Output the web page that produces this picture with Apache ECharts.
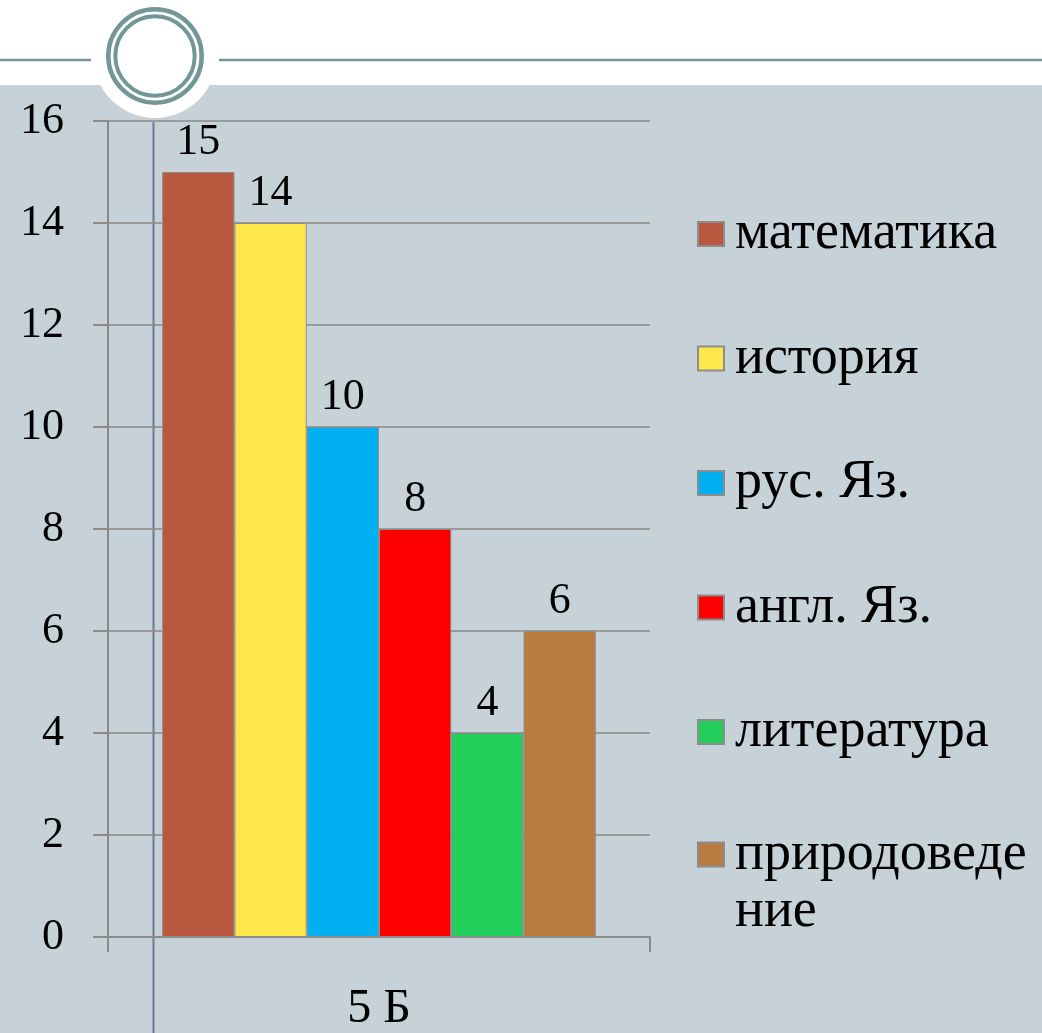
<!DOCTYPE html>
<html>
<head>
<meta charset="utf-8">
<script src="https://cdn.jsdelivr.net/npm/echarts@6/dist/echarts.min.js"></script>
<style>
html,body{margin:0;padding:0;background:#fff;}
#chart{width:1042px;height:1033px;}
</style>
</head>
<body>
<div id="chart"></div>
<script>
const categories = ['5 Б'];
const subjects = ['математика', 'история', 'рус. Яз.', 'англ. Яз.', 'литература', 'природоведение'];
const values = [15, 14, 10, 8, 4, 6];
const colors = ['#b9573f', '#fee74a', '#00b0f0', '#ff0000', '#22cf5a', '#b87c41'];

const FONT = "'Liberation Serif', 'DejaVu Serif', serif";
const chart = echarts.init(document.getElementById('chart'), null, {renderer: 'canvas'});

const series = subjects.map((name, i) => ({
  name: name,
  type: 'bar',
  data: [values[i]],
  barGap: '0%',
  barCategoryGap: '20%',
  itemStyle: {color: colors[i], borderColor: '#8c8c8c', borderWidth: 1},
  label: {
    show: true, position: 'top', distance: 8,
    color: '#000', fontFamily: FONT, fontSize: 44
  }
}));

const legendText = {color: '#000', fontFamily: FONT, fontSize: 54, lineHeight: 57, padding: [0, 0, 0, 6]};

const option = {
  backgroundColor: '#ffffff',
  animation: false,
  graphic: [
    {type: 'rect', z: -10, shape: {x: 0, y: 85, width: 1042, height: 948}, style: {fill: '#c6d1d8'}},
    {type: 'line', z: -9, shape: {x1: 0, y1: 60, x2: 91, y2: 60}, style: {stroke: '#739797', lineWidth: 2.5}},
    {type: 'line', z: -9, shape: {x1: 219, y1: 60, x2: 1042, y2: 60}, style: {stroke: '#739797', lineWidth: 2.5}},
    {type: 'circle', z: -8, shape: {cx: 155, cy: 56, r: 62}, style: {fill: '#ffffff'}},
    {type: 'circle', z: -7, shape: {cx: 155, cy: 56, r: 46.7}, style: {fill: 'none', stroke: '#739797', lineWidth: 4.5}},
    {type: 'circle', z: -7, shape: {cx: 155, cy: 56, r: 39.7}, style: {fill: 'none', stroke: '#739797', lineWidth: 4}},
    {type: 'line', z: -6, shape: {x1: 153.5, y1: 122, x2: 153.5, y2: 1033}, style: {stroke: '#6b7897', lineWidth: 2}}
  ],
  grid: {left: 108, right: 392, top: 121, bottom: 96, containLabel: false},
  legend: [
    {
      data: subjects.slice(0, 5),
      orient: 'vertical', left: 697, top: 205.5, padding: 0,
      itemWidth: 26, itemHeight: 24, itemGap: 67.5,
      icon: 'rect', selectedMode: false,
      textStyle: legendText
    },
    {
      data: subjects.slice(5),
      orient: 'vertical', left: 697, top: 769, padding: 0,
      itemWidth: 26, itemHeight: 24,
      icon: 'rect', selectedMode: false,
      formatter: function (name) {
        return name === 'природоведение' ? '{t|природоведе}\n{t|ние}' : '{t|' + name + '}';
      },
      textStyle: {
        color: '#000', fontFamily: FONT, fontSize: 54, lineHeight: 57,
        padding: [57, 0, 0, 6],
        rich: {t: {color: '#000', fontFamily: FONT, fontSize: 54, lineHeight: 57}}
      }
    }
  ],
  xAxis: {
    type: 'category',
    data: categories,
    axisLine: {show: true, lineStyle: {color: '#8a8a8a', width: 2}},
    axisTick: {show: true, length: 15, lineStyle: {color: '#8a8a8a', width: 2}},
    axisLabel: {color: '#000', fontFamily: FONT, fontSize: 48, margin: 48}
  },
  yAxis: {
    type: 'value',
    min: 0, max: 16, interval: 2,
    axisLine: {show: true, lineStyle: {color: '#8a8a8a', width: 2}},
    axisTick: {show: true, length: 15, lineStyle: {color: '#8a8a8a', width: 2}},
    splitLine: {show: true, lineStyle: {color: '#8a8a8a', width: 1.6}},
    axisLabel: {color: '#000', fontFamily: FONT, fontSize: 44, margin: 44}
  },
  series: series
};
chart.setOption(option);
</script>
</body>
</html>
